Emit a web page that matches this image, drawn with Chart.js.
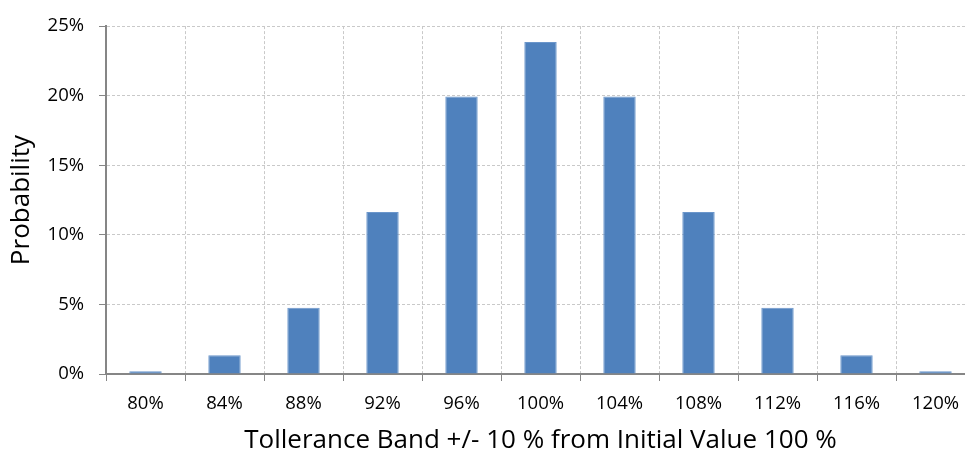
<!DOCTYPE html>
<html>
<head>
<meta charset="utf-8">
<script src="https://cdn.jsdelivr.net/npm/chart.js@4"></script>
<style>
  html, body { margin: 0; padding: 0; background: #fff; overflow: hidden; }
  #wrap { width: 980px; height: 456px; }
</style>
</head>
<body>
<div id="wrap"><canvas id="chart"></canvas></div>
<script>
// ── Data ──
const bandLabels = ["80%", "84%", "88%", "92%", "96%", "100%", "104%", "108%", "112%", "116%", "120%"];
const probability = [0.2, 1.35, 4.76, 11.65, 19.95, 23.85, 19.95, 11.65, 4.76, 1.35, 0.2];
const yTicks = [0, 5, 10, 15, 20, 25];

const FONT = "'Open Sans', Lato, sans-serif";
const AXIS_GREY = "#868686";

new Chart(document.getElementById("chart"), {
    type: "bar",
    data: {
        labels: bandLabels,
        datasets: [{
            label: "Probability",
            data: probability,
            backgroundColor: "#4f81bd",
            borderColor: "#6b96cb",
            borderWidth: 1,
            categoryPercentage: 1,
            barPercentage: 0.41,
        }],
    },
    options: {
        responsive: true,
        maintainAspectRatio: false,
        animation: false,
        layout: { padding: { top: 22, right: 5, bottom: 0, left: 0 } },
        plugins: { legend: { display: false }, tooltip: { enabled: false } },
        scales: {
            x: {
                grid: {
                    offset: true,
                    color: "#c9c9c9",
                    lineWidth: 1,
                    tickColor: AXIS_GREY,
                    tickLength: 7,
                },
                border: { display: true, color: AXIS_GREY, width: 2, dash: [3, 2] },
                ticks: { color: "#000", font: { family: FONT, size: 18.5 }, padding: 12 },
                title: {
                    display: true,
                    text: "Tollerance Band +/- 10 % from Initial Value 100 %",
                    color: "#000",
                    font: { family: FONT, size: 26 },
                    padding: { top: 0, bottom: 0 },
                },
                afterFit: (scale) => { scale.height = 82; },
            },
            y: {
                min: 0,
                max: 25,
                afterBuildTicks: (scale) => { scale.ticks = yTicks.map(v => ({ value: v })); },
                grid: {
                    color: "#c9c9c9",
                    lineWidth: 1,
                    tickColor: AXIS_GREY,
                    tickLength: 7,
                },
                border: { display: true, color: AXIS_GREY, width: 2, dash: [3, 2] },
                ticks: {
                    color: "#000",
                    font: { family: FONT, size: 18.5 },
                    padding: 15,
                    callback: (v) => v + "%",
                },
                title: {
                    display: true,
                    text: "Probability",
                    color: "#000",
                    font: { family: FONT, size: 26 },
                    padding: { top: 6, bottom: 0 },
                },
                afterFit: (scale) => { scale.width = 106; },
            },
        },
    },
});
</script>
</body>
</html>
